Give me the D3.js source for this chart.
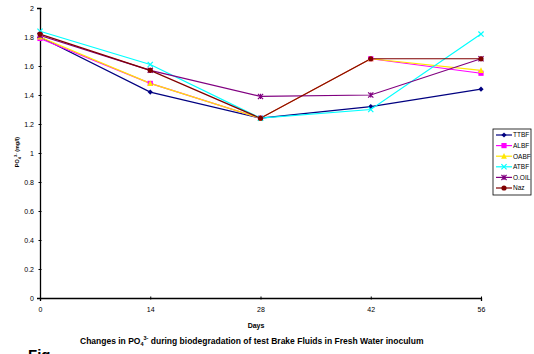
<!DOCTYPE html>
<html><head><meta charset="utf-8">
<script src="https://cdn.jsdelivr.net/npm/d3@7"></script>
<style>body{margin:0;background:#fff}svg{display:block;font-family:"Liberation Sans",Arial,sans-serif}</style>
</head><body><svg id="c" width="534" height="354"></svg>
<script>
const days = [0, 14, 28, 42, 56];
const yTicks = [0, 0.2, 0.4, 0.6, 0.8, 1, 1.2, 1.4, 1.6, 1.8, 2];
const seriesNames = ["TTBF", "ALBF", "OABF", "ATBF", "O.OIL", "Naz"];
const TTBF = [1.80, 1.42, 1.24, 1.32, 1.44];
const ALBF = [1.79, 1.48, 1.24, 1.65, 1.55];
const OABF = [1.80, 1.48, 1.24, 1.65, 1.57];
const ATBF = [1.84, 1.61, 1.24, 1.30, 1.82];
const OOIL = [1.81, 1.57, 1.39, 1.40, 1.65];
const Naz  = [1.82, 1.57, 1.24, 1.65, 1.65];
const seriesValues = [TTBF, ALBF, OABF, ATBF, OOIL, Naz];
const colors = ["#000080", "#FF00FF", "#FFE600", "#00FFFF", "#800080", "#800000"];
const markers = ["diamond", "square", "triangle", "x", "asterisk", "circle"];

const svg = d3.select("#c");
const x = d3.scaleLinear().domain([0, 56]).range([40, 481]);
const y = d3.scaleLinear().domain([0, 2]).range([298, 8]);

const xAxis = svg.append("g").attr("transform", "translate(0,298)")
  .call(d3.axisBottom(x).tickValues(days).tickSize(3).tickFormat(d3.format("d")));
const yAxis = svg.append("g").attr("transform", "translate(40,0)")
  .call(d3.axisLeft(y).tickValues(yTicks).tickSize(3).tickFormat(d => d3.format("")(+d.toFixed(1))));
[xAxis, yAxis].forEach(g => {
  g.select(".domain").attr("stroke", "#000").attr("stroke-width", 1.3);
  g.selectAll("text").attr("font-size", 7).attr("fill", "#000").attr("font-family", "Liberation Sans, Arial, sans-serif");
});
xAxis.selectAll(".tick line").attr("transform", "translate(0,-1.5)");
yAxis.selectAll(".tick line").attr("transform", "translate(1.5,0)");
xAxis.selectAll("text").attr("dy", "1.2em");

function drawMarker(g, type, cx, cy, color) {
  const s = 2.6;
  if (type === "diamond") g.append("path").attr("d", `M${cx},${cy-s}L${cx+s},${cy}L${cx},${cy+s}L${cx-s},${cy}Z`).attr("fill", color);
  else if (type === "square") g.append("rect").attr("x", cx-s).attr("y", cy-s).attr("width", 2*s).attr("height", 2*s).attr("fill", color);
  else if (type === "triangle") g.append("path").attr("d", `M${cx},${cy-s-0.5}L${cx+s+0.3},${cy+s}L${cx-s-0.3},${cy+s}Z`).attr("fill", color);
  else if (type === "circle") g.append("circle").attr("cx", cx).attr("cy", cy).attr("r", s).attr("fill", color);
  else if (type === "x") g.append("path").attr("d", `M${cx-s},${cy-s}L${cx+s},${cy+s}M${cx-s},${cy+s}L${cx+s},${cy-s}`).attr("stroke", color).attr("stroke-width", 1.2);
  else if (type === "asterisk") g.append("path").attr("d", `M${cx-s},${cy-s}L${cx+s},${cy+s}M${cx-s},${cy+s}L${cx+s},${cy-s}M${cx},${cy-s}L${cx},${cy+s}`).attr("stroke", color).attr("stroke-width", 1.2);
}

const line = d3.line().x((d, i) => x(days[i])).y(d => y(d));
seriesValues.forEach((vals, k) => {
  svg.append("path").datum(vals).attr("d", line).attr("fill", "none")
    .attr("stroke", colors[k]).attr("stroke-width", 1.2);
});
seriesValues.forEach((vals, k) => {
  const g = svg.append("g");
  vals.forEach((v, i) => drawMarker(g, markers[k], x(days[i]), y(v), colors[k]));
});

// Legend
const lg = svg.append("g").attr("transform", "translate(493,129)");
lg.append("rect").attr("width", 38).attr("height", 66).attr("fill", "#fff").attr("stroke", "#000").attr("stroke-width", 0.8);
seriesNames.forEach((n, k) => {
  const yy = 6 + k * 10.6;
  lg.append("line").attr("x1", 3).attr("x2", 19).attr("y1", yy).attr("y2", yy).attr("stroke", colors[k]).attr("stroke-width", 1.2);
  drawMarker(lg, markers[k], 11, yy, colors[k]);
  lg.append("text").attr("x", 20).attr("y", yy + 2.3).attr("font-size", 6.5).text(n);
});

// Axis titles
svg.append("text").attr("x", 256).attr("y", 328).attr("text-anchor", "middle")
  .attr("font-size", 7).attr("font-weight", "bold").text("Days");
const yl = svg.append("text").attr("transform", "translate(19,152) rotate(-90)")
  .attr("text-anchor", "middle").attr("font-size", 5.5).attr("font-weight", "bold");
yl.append("tspan").text("PO");
yl.append("tspan").attr("font-size", 4).attr("dy", 1.5).text("4");
yl.append("tspan").attr("font-size", 4).attr("dy", -4).text("3-");
yl.append("tspan").attr("dy", 2.5).text("  (mg/l)");

// Caption
const cap = svg.append("text").attr("x", 80).attr("y", 344).attr("font-size", 8.5).attr("font-weight", "bold");
cap.append("tspan").text("Changes in PO");
cap.append("tspan").attr("font-size", 5.5).attr("dy", 2).text("4");
cap.append("tspan").attr("font-size", 5.5).attr("dy", -6).text("3-");
cap.append("tspan").attr("dy", 4).text(" during biodegradation of test Brake Fluids in Fresh Water inoculum");
svg.append("text").attr("x", 28).attr("y", 360).attr("font-size", 15).attr("font-weight", "bold").text("Fig");
</script></body></html>
